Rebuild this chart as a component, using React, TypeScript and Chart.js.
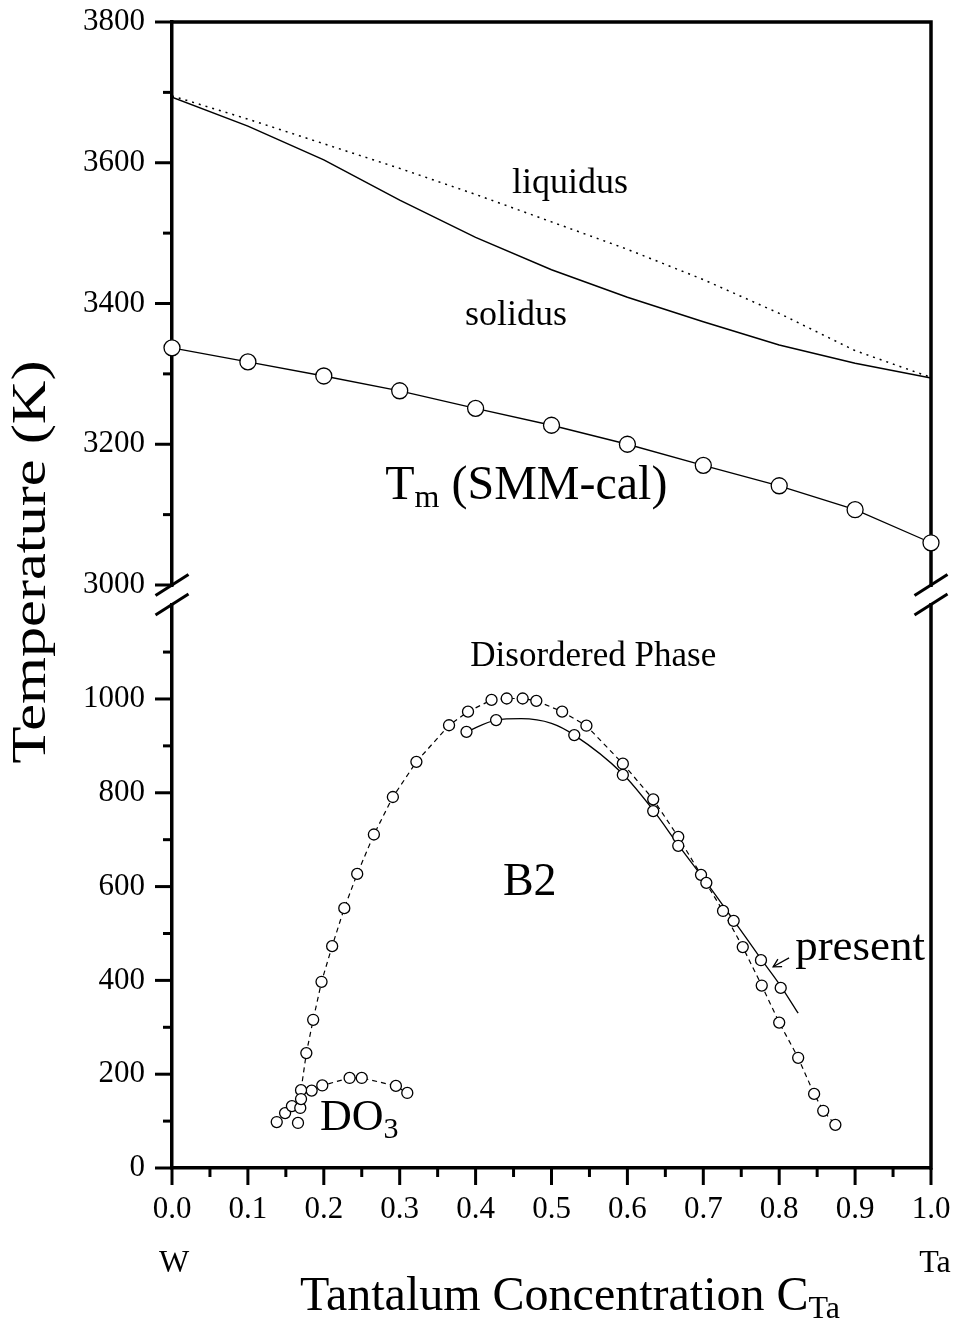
import React, { useEffect, useRef } from 'react';
import { Chart, registerables } from 'chart.js';

Chart.register(...registerables);

const FONT = '"Liberation Serif", "Times New Roman", Times, serif';

// ---- tick labels ----
const yTopLabels = [3000, 3200, 3400, 3600, 3800];
const yBotLabels = [0, 200, 400, 600, 800, 1000];

// ---- upper panel (K) ----
const compX = [0, 0.1, 0.2, 0.3, 0.4, 0.5, 0.6, 0.7, 0.8, 0.9, 1.0];
const tmT = [3337, 3317, 3297, 3276, 3251, 3227, 3200, 3170, 3141, 3107, 3060];
const solidusT = [3693, 3652, 3604, 3547, 3494, 3448, 3409, 3374, 3341, 3315, 3294];
const liquidusT = [3695, 3662, 3627, 3592, 3555, 3516, 3477, 3434, 3386, 3333, 3295];

// ---- lower panel: B2 / disordered boundary (dashed, earlier data) ----
const b2X = [0.170, 0.177, 0.186, 0.197, 0.211, 0.227, 0.244, 0.266, 0.291, 0.322, 0.365, 0.390, 0.421, 0.441, 0.462, 0.480, 0.514, 0.546, 0.594, 0.634, 0.667, 0.697, 0.726, 0.752, 0.777, 0.800, 0.825, 0.846, 0.858, 0.874];
const b2T = [166, 245, 316, 397, 473, 554, 627, 711, 791, 866, 944, 973, 998, 1001, 1001, 996, 973, 943, 862, 786, 706, 625, 548, 471, 389, 310, 235, 158, 122, 92];

// ---- present work: points and fitted curve ----
const presX = [0.388, 0.427, 0.530, 0.594, 0.634, 0.667, 0.704, 0.740, 0.776, 0.802];
const presT = [930, 955, 923, 838, 761, 687, 608, 527, 443, 384];
const curveX = [0.388, 0.427, 0.460, 0.500, 0.530, 0.594, 0.634, 0.667, 0.704, 0.740, 0.776, 0.802, 0.825];
const curveT = [930, 955, 958, 948, 923, 840, 763, 689, 609, 528, 446, 388, 330];

// ---- DO3 ----
const do3X = [0.184, 0.198, 0.234, 0.250, 0.295, 0.310];
const do3T = [165, 176, 192, 192, 175, 160];
const do3LowX = [0.138, 0.149, 0.158, 0.166, 0.169, 0.170];
const do3LowT = [98, 117, 132, 96, 128, 147];

const pts = (xs: number[], ys: number[]) => xs.map((x, i) => ({ x, y: ys[i] }));

// text annotations anchored in data coordinates
const annotations = [
  { axis: 'yTop', x: 0.448, y: 3557, parts: [{ t: 'liquidus', s: 36, dy: 0 }] },
  { axis: 'yTop', x: 0.386, y: 3369, parts: [{ t: 'solidus', s: 36, dy: 0 }] },
  { axis: 'yTop', x: 0.281, y: 3122, parts: [{ t: 'T', s: 48, dy: 0 }, { t: 'm', s: 32, dy: 8 }, { t: ' (SMM-cal)', s: 48, dy: 0 }] },
  { axis: 'yBot', x: 0.393, y: 1070, parts: [{ t: 'Disordered Phase', s: 35, dy: 0 }] },
  { axis: 'yBot', x: 0.436, y: 582, parts: [{ t: 'B2', s: 46, dy: 0 }] },
  { axis: 'yBot', x: 0.821, y: 443, parts: [{ t: 'present', s: 45, dy: 0 }] },
  { axis: 'yBot', x: 0.195, y: 81, parts: [{ t: 'DO', s: 44, dy: 0 }, { t: '3', s: 30, dy: 8 }] },
];

const noPad = (s: any) => { s.paddingTop = 0; s.paddingBottom = 0; s.paddingLeft = 0; s.paddingRight = 0; };

const decorPlugin = {
  id: 'decor',
  beforeDatasetsDraw(chart: any) {
    const { ctx, chartArea: a, scales } = chart;
    const xs = scales.x, yt = scales.yTop, yb = scales.yBot;
    const line = (x1: number, y1: number, x2: number, y2: number) => {
      ctx.beginPath(); ctx.moveTo(x1, y1); ctx.lineTo(x2, y2); ctx.stroke();
    };
    ctx.save();
    ctx.strokeStyle = '#000';
    ctx.lineCap = 'butt';
    ctx.lineWidth = 3.5;
    ctx.beginPath();
    ctx.moveTo(a.left, a.top);
    ctx.lineTo(a.right, a.top);
    ctx.lineTo(a.right, a.bottom + 1.75);
    ctx.stroke();

    ctx.lineWidth = 3;
    yt.ticks.forEach((t: any) => {
      const y = yt.getPixelForValue(t.value);
      const len = yTopLabels.includes(t.value) ? 17 : 9;
      line(a.left - len, y, a.left, y);
    });
    yb.ticks.forEach((t: any) => {
      if (t.value > 1100) return;
      const y = yb.getPixelForValue(t.value);
      const len = yBotLabels.includes(t.value) ? 17 : 9;
      line(a.left - len, y, a.left, y);
    });
    const xv = xs.ticks.map((t: any) => t.value);
    xv.forEach((v: number, i: number) => {
      const x = xs.getPixelForValue(v);
      line(x, a.bottom, x, a.bottom + 17);
      if (i < xv.length - 1) {
        const xm = xs.getPixelForValue((v + xv[i + 1]) / 2);
        line(xm, a.bottom, xm, a.bottom + 9);
      }
    });

    // axis break marks
    const yB = yt.bottom;
    [a.left, a.right].forEach((ax: number) => {
      ctx.fillStyle = '#fff';
      ctx.fillRect(ax - 4, yB + 2, 8, 16);
      ctx.lineWidth = 3;
      line(ax - 16.5, yB + 10.5, ax + 16.5, yB - 10.5);
      line(ax - 16.5, yB + 30, ax + 16.5, yB + 9);
    });
    ctx.restore();
  },
  afterDraw(chart: any) {
    const { ctx, chartArea: a, scales } = chart;
    const xs = scales.x;
    ctx.save();
    ctx.fillStyle = '#000';
    ctx.strokeStyle = '#000';
    ctx.textBaseline = 'alphabetic';
    ctx.textAlign = 'left';
    annotations.forEach((an) => {
      let cx = xs.getPixelForValue(an.x);
      const y = scales[an.axis].getPixelForValue(an.y);
      an.parts.forEach((p) => {
        ctx.font = `${p.s}px ${FONT}`;
        ctx.fillText(p.t, cx, y + p.dy);
        cx += ctx.measureText(p.t).width;
      });
    });

    // arrow pointing to the present curve
    const yb = scales.yBot;
    const x1 = xs.getPixelForValue(0.813), y1 = yb.getPixelForValue(448);
    const x2 = xs.getPixelForValue(0.792), y2 = yb.getPixelForValue(429);
    ctx.lineWidth = 1.3;
    ctx.beginPath(); ctx.moveTo(x1, y1); ctx.lineTo(x2, y2); ctx.stroke();
    const ang = Math.atan2(y2 - y1, x2 - x1);
    const hl = 9;
    ctx.beginPath();
    ctx.moveTo(x2 - hl * Math.cos(ang - 0.5), y2 - hl * Math.sin(ang - 0.5));
    ctx.lineTo(x2, y2);
    ctx.lineTo(x2 - hl * Math.cos(ang + 0.5), y2 - hl * Math.sin(ang + 0.5));
    ctx.stroke();

    // W / Ta end labels
    ctx.font = `32px ${FONT}`;
    ctx.textAlign = 'center';
    ctx.fillText('W', a.left + 2, a.bottom + 104);
    ctx.fillText('Ta', a.right + 4, a.bottom + 104);

    // x title
    ctx.textAlign = 'left';
    let tx = 300;
    const tb = a.bottom + 142;
    ctx.font = `48px ${FONT}`;
    const main = 'Tantalum Concentration C';
    ctx.fillText(main, tx, tb);
    tx += ctx.measureText(main).width;
    ctx.font = `32px ${FONT}`;
    ctx.fillText('Ta', tx, tb + 8);

    // y title (stretched along its length)
    const yt = 'Temperature (K)';
    ctx.font = `48px ${FONT}`;
    const w = ctx.measureText(yt).width;
    ctx.translate(45, 562);
    ctx.rotate(-Math.PI / 2);
    ctx.scale(403 / w, 1);
    ctx.textAlign = 'center';
    ctx.fillText(yt, 0, 0);
    ctx.restore();
  },
};

export default function App() {
  const ref = useRef<HTMLCanvasElement | null>(null);
  useEffect(() => {
    if (!ref.current) return;
    const open = { pointStyle: 'circle', pointBackgroundColor: '#fff', pointBorderColor: '#000', borderColor: '#000' };
    const chart = new Chart(ref.current, {
      type: 'scatter',
      data: {
        datasets: [
          { label: 'present', data: pts(presX, presT), yAxisID: 'yBot', showLine: false, pointRadius: 5.5, pointBorderWidth: 1.3, ...open },
          { label: 'DO3 low', data: pts(do3LowX, do3LowT), yAxisID: 'yBot', showLine: false, pointRadius: 5.5, pointBorderWidth: 1.3, ...open },
          { label: 'B2', data: pts(b2X, b2T), yAxisID: 'yBot', showLine: true, borderWidth: 1.2, borderDash: [5, 4], pointRadius: 5.5, pointBorderWidth: 1.3, ...open },
          { label: 'DO3', data: pts(do3X, do3T), yAxisID: 'yBot', showLine: true, borderWidth: 1.2, borderDash: [5, 4], pointRadius: 5.5, pointBorderWidth: 1.3, ...open },
          { label: 'present curve', data: pts(curveX, curveT), yAxisID: 'yBot', showLine: true, borderWidth: 1.3, pointRadius: 0, cubicInterpolationMode: 'monotone', borderColor: '#000' },
          { label: 'Tm (SMM-cal)', data: pts(compX, tmT), yAxisID: 'yTop', showLine: true, borderWidth: 1.3, pointRadius: 8, pointBorderWidth: 1.3, clip: false, ...open },
          { label: 'solidus', data: pts(compX, solidusT), yAxisID: 'yTop', showLine: true, borderWidth: 1.5, pointRadius: 0, borderColor: '#000' },
          { label: 'liquidus', data: pts(compX, liquidusT), yAxisID: 'yTop', showLine: true, borderWidth: 1.5, borderDash: [2, 5], pointRadius: 0, borderColor: '#000' },
        ],
      } as any,
      options: {
        responsive: false,
        animation: false,
        events: [],
        layout: { padding: { top: 22, right: 28, left: 0, bottom: 0 } },
        plugins: { legend: { display: false }, tooltip: { enabled: false }, title: { display: false } },
        scales: {
          x: {
            type: 'linear', position: 'bottom', min: 0, max: 1,
            afterFit: (s: any) => { s.height = 159; noPad(s); },
            border: { display: true, color: '#000', width: 3.5 },
            grid: { display: true, drawOnChartArea: false, drawTicks: false, color: 'rgba(0,0,0,0)' },
            ticks: {
              stepSize: 0.1, autoSkip: false, maxRotation: 0, padding: 23, color: '#000',
              font: { family: FONT, size: 31 },
              callback: (v: any) => Number(v).toFixed(1),
            },
          },
          yTop: {
            type: 'linear', position: 'left', stack: 'y', stackWeight: 563, weight: 1,
            min: 3000, max: 3800,
            afterFit: (s: any) => { s.width = 172; noPad(s); },
            border: { display: true, color: '#000', width: 3.5 },
            grid: { display: true, drawOnChartArea: false, drawTicks: false, color: 'rgba(0,0,0,0)' },
            ticks: {
              stepSize: 100, autoSkip: false, padding: 27, color: '#000',
              font: { family: FONT, size: 31 },
              callback: (v: any) => (yTopLabels.includes(Number(v)) ? String(v) : ''),
            },
          },
          yBot: {
            type: 'linear', position: 'left', stack: 'y', stackWeight: 583, weight: 0,
            min: 0, max: 1243,
            afterFit: (s: any) => { s.width = 172; noPad(s); },
            border: { display: true, color: '#000', width: 3.5 },
            grid: { display: true, drawOnChartArea: false, drawTicks: false, color: 'rgba(0,0,0,0)' },
            ticks: {
              stepSize: 100, autoSkip: false, padding: 27, color: '#000',
              font: { family: FONT, size: 31 },
              callback: (v: any) => (yBotLabels.includes(Number(v)) ? String(v) : ''),
            },
          },
        },
      } as any,
      plugins: [decorPlugin],
    });
    return () => chart.destroy();
  }, []);

  return (
    <div style={{ position: 'absolute', left: 0, top: 0, width: 959, height: 1327, background: '#fff' }}>
      <canvas ref={ref} width={959} height={1327} style={{ display: 'block', width: 959, height: 1327 }} />
    </div>
  );
}
